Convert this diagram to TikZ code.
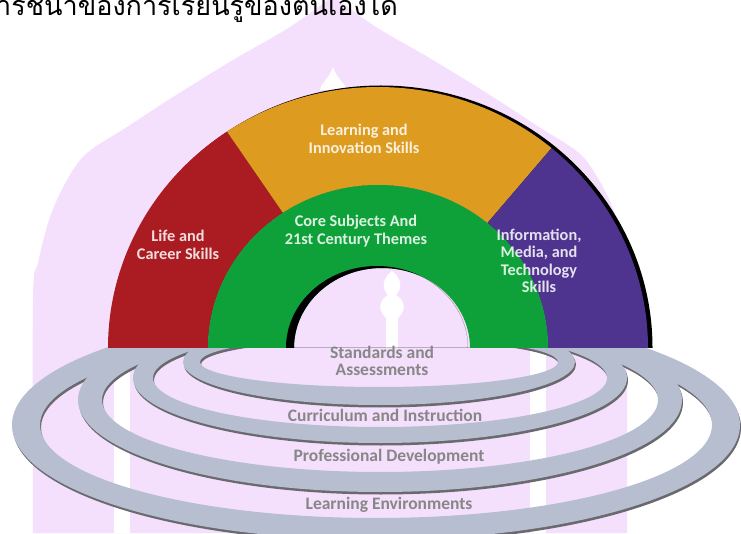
\documentclass[tikz,border=0pt]{standalone}
\usepackage{fontspec}
\newfontfamily\lblfont{Carlito}
\newfontfamily\thaifont[Script=Thai]{Loma}
\definecolor{lifered}{RGB}{170,27,34}
\definecolor{innoorange}{RGB}{221,155,32}
\definecolor{techpurple}{RGB}{79,52,143}
\definecolor{coregreen}{RGB}{14,161,58}
\definecolor{ringblue}{RGB}{182,190,208}
\definecolor{ringshade}{RGB}{105,105,110}
\definecolor{ringtext}{RGB}{135,135,135}
\definecolor{sealpink}{RGB}{244,223,252}
\begin{document}
\begin{tikzpicture}[x=1pt,y=1pt,
    archlbl/.style={font=\lblfont\bfseries\fontsize{16.3}{17.5}\selectfont,text=white,text opacity=0.85,align=center,inner sep=0pt},
    ringlbl/.style={font=\lblfont\bfseries\fontsize{17.5}{16.5}\selectfont,text=ringtext,align=center,inner sep=0pt},
    ringband/.style={fill=ringblue,even odd rule},
    ringedge/.style={fill=ringshade,even odd rule}]
    \clip (0,0) rectangle (741,533);
    %% Seal in the background
    \fill[sealpink] plot[smooth,tension=0.55] coordinates {(33,0) (33,233) (38,270) (50,316) (67,353) (87,380) (127,406) (173,436) (233,473) (290,506) (333,537)}
        -- plot[smooth,tension=0.55] coordinates {(333,537) (376,506) (433,473) (493,436) (539,406) (579,380) (599,353) (616,316) (624,270) (627,233) (627,0)} -- cycle;
    \fill[white] (333,466) .. controls (338,452) and (346,450) .. (346,443) -- (320,443) .. controls (320,450) and (328,452) .. (333,466) -- cycle;
    \fill[white] (114,0) rectangle (130,186);
    \fill[white] (530,0) rectangle (546,186);
    \fill[white] (386,185) -- (386,215) .. controls (378,222) and (378,232) .. (388,238) .. controls (380,246) and (384,256) .. (392,262)
        .. controls (400,256) and (404,246) .. (396,238) .. controls (406,232) and (406,222) .. (398,215) -- (398,185) -- cycle;
    %% Heading line (cut by the page)
    \node[font=\thaifont\fontsize{27}{31}\selectfont,anchor=base east,inner sep=0pt] (heading) at (398,517) {การชี้นำของการเรียนรู้ของตนเองได้};
    %% Rings
    \begin{scope}
        \clip (0,0) rectangle (741,185);
        \foreach \cx/\cy/\ox/\oy/\ix/\iy in {376/108/364/115/336/93, 380/133/302/92/278/72, 380/155/247/65/227/49, 379/171/196/43/179/25} {
            \fill[ringedge] (\cx+1,\cy-2.5) ellipse[x radius=\ox,y radius=\oy] (\cx+1,\cy-2.5) ellipse[x radius=\ix,y radius=\iy];
            \fill[ringband] (\cx,\cy) ellipse[x radius=\ox,y radius=\oy] (\cx,\cy) ellipse[x radius=\ix,y radius=\iy];
        }
    \end{scope}
    %% Arch
    \begin{scope}[shift={(378,185)}]
        \fill[black,even odd rule] (-268.5,0) arc[start angle=180,end angle=0,x radius=271.5,y radius=262.5] -- cycle
            (-170,0) arc[start angle=180,end angle=0,x radius=170,y radius=163] -- cycle;
        \fill[lifered] (180:270 and 261) arc[start angle=180,end angle=124,x radius=270,y radius=261] -- (124:170 and 163) arc[start angle=124,end angle=180,x radius=170,y radius=163] -- cycle;
        \fill[innoorange] (124:270 and 261) arc[start angle=124,end angle=50,x radius=270,y radius=261] -- (50:170 and 163) arc[start angle=50,end angle=124,x radius=170,y radius=163] -- cycle;
        \fill[techpurple] (50:270 and 261) arc[start angle=50,end angle=0,x radius=270,y radius=261] -- (170,0) arc[start angle=0,end angle=50,x radius=170,y radius=163] -- cycle;
        \fill[coregreen] (-170,0) arc[start angle=180,end angle=0,x radius=170,y radius=163] -- (92,0) arc[start angle=0,end angle=180,x radius=88,y radius=80] -- cycle;
        \begin{scope}
            \clip (-92,0) arc[start angle=180,end angle=0,x radius=91,y radius=82] -- cycle;
            \fill[black,even odd rule] (-92,0) arc[start angle=180,end angle=0,x radius=91,y radius=82] -- cycle (-84,0) arc[start angle=180,end angle=0,x radius=88,y radius=80] -- cycle;
        \end{scope}
    \end{scope}
    %% Labels
    \node[archlbl] (life) at (178,288) {Life and\\Career Skills};
    \node[archlbl] (inno) at (364,394) {Learning and\\Innovation Skills};
    \node[archlbl] (core) at (356,302) {Core Subjects And\\21st Century Themes};
    \node[archlbl] (tech) at (539,272) {Information,\\Media, and\\Technology\\Skills};
    \node[ringlbl] (stand) at (382,172) {Standards and\\Assessments};
    \node[ringlbl] (curri) at (385,118) {Curriculum and Instruction};
    \node[ringlbl] (prof) at (389,76) {Professional Development};
    \node[ringlbl] (envi) at (389,28) {Learning Environments};
\end{tikzpicture}
\end{document}
